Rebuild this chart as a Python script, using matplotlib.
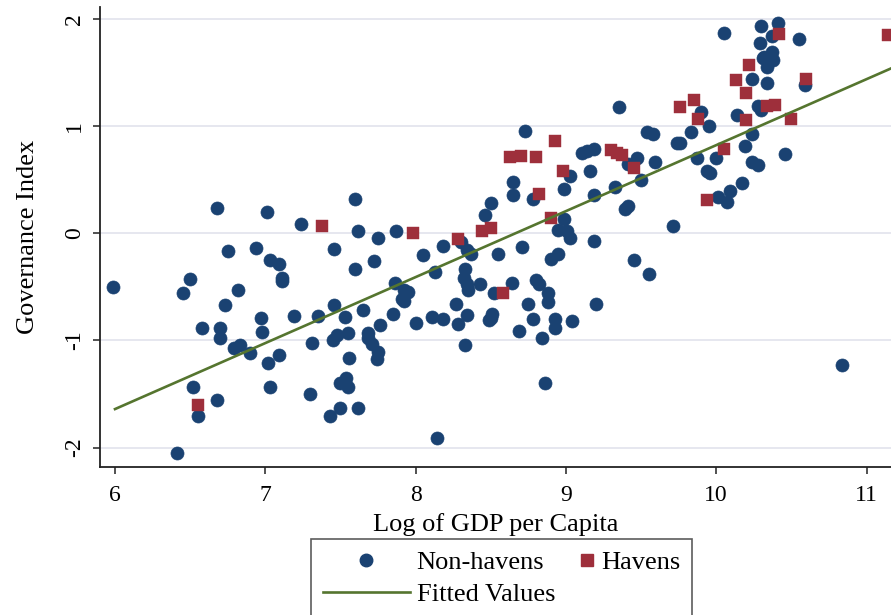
import matplotlib
matplotlib.use("Agg")
import matplotlib.pyplot as plt
from matplotlib.lines import Line2D
from matplotlib.legend_handler import HandlerLine2D

plt.rcParams['font.family'] = ['Liberation Serif', 'DejaVu Serif']

# Non-havens: log GDP per capita, governance index
non_x = [5.99, 6.45, 6.50, 6.68, 6.75, 6.82, 6.73, 6.94, 7.01, 7.03, 7.09, 7.11, 7.11, 7.24,
         6.58, 6.70, 6.70, 6.79, 6.83, 6.90, 6.97, 6.98, 7.19, 7.02, 7.09, 6.52, 7.03, 6.68,
         6.55, 6.41, 7.35, 7.46, 7.53, 7.65, 7.85, 7.92, 8.00, 8.11, 8.18, 7.31, 7.45, 7.48,
         7.55, 7.68, 7.68, 7.71, 7.75, 7.74, 7.76, 7.56, 7.54, 7.50, 7.55, 7.30, 7.43, 7.50,
         7.62, 8.14, 7.60, 7.62, 7.75, 7.87, 7.46, 7.60, 7.72, 8.05, 8.18, 8.13, 7.86, 7.92,
         7.95, 7.91,
         8.30, 8.46, 8.50, 8.34, 8.37, 8.33, 8.32, 8.34, 8.35, 8.43, 8.27, 8.28, 8.34, 8.50,
         8.33,
         9.35, 8.73, 9.54, 9.58, 9.74, 9.76, 9.83, 9.11, 9.14, 9.19, 9.41, 9.47, 9.50, 9.59,
         9.03, 9.16, 8.65, 8.65, 8.78, 8.99, 9.19, 9.33, 9.39, 9.41, 9.71, 8.99, 8.95, 9.01,
         9.03, 9.19, 8.71, 8.55, 8.90, 8.95, 9.45, 9.55, 8.52, 8.64, 8.80, 8.82, 8.88, 8.88,
         8.75, 9.20, 8.51, 8.49, 8.78, 8.93, 8.93, 9.04, 8.69, 8.84, 8.86,
         10.05, 10.30, 10.41, 10.55, 10.29, 10.37, 10.37, 10.32, 10.38, 10.34, 10.31, 10.24,
         10.34, 10.59, 10.28, 10.30, 10.14, 10.24, 10.19, 10.46, 10.24, 10.28, 10.17, 10.09,
         10.01, 10.07, 10.00, 9.94, 9.96, 9.87, 9.95, 9.90, 10.84]
non_y = [-0.50, -0.56, -0.43, 0.24, -0.17, -0.53, -0.67, -0.14, 0.20, -0.25, -0.29, -0.42, -0.45, 0.09,
         -0.88, -0.88, -0.98, -1.07, -1.04, -1.12, -0.79, -0.92, -0.77, -1.21, -1.14, -1.43, -1.43, -1.56,
         -1.70, -2.05, -0.77, -0.67, -0.78, -0.72, -0.75, -0.63, -0.84, -0.78, -0.80, -1.02, -1.00, -0.95,
         -0.93, -0.93, -0.98, -1.03, -1.11, -1.17, -0.86, -1.16, -1.35, -1.40, -1.43, -1.50, -1.70, -1.63,
         -1.63, -1.91, 0.32, 0.02, -0.04, 0.02, -0.15, -0.33, -0.26, -0.20, -0.12, -0.36, -0.46, -0.53,
         -0.55, -0.61,
         -0.08, 0.17, 0.28, -0.16, -0.19, -0.33, -0.42, -0.47, -0.53, -0.47, -0.66, -0.85, -0.76, -0.79,
         -1.04,
         1.18, 0.95, 0.94, 0.93, 0.84, 0.84, 0.94, 0.75, 0.77, 0.79, 0.65, 0.70, 0.50, 0.66,
         0.53, 0.58, 0.48, 0.36, 0.32, 0.41, 0.36, 0.43, 0.23, 0.25, 0.07, 0.13, 0.03, 0.02,
         -0.04, -0.07, -0.13, -0.19, -0.24, -0.19, -0.25, -0.38, -0.56, -0.46, -0.44, -0.47, -0.56, -0.64,
         -0.66, -0.66, -0.75, -0.81, -0.80, -0.80, -0.88, -0.82, -0.91, -0.98, -1.40,
         1.87, 1.93, 1.96, 1.81, 1.77, 1.84, 1.69, 1.64, 1.62, 1.55, 1.63, 1.44,
         1.40, 1.38, 1.19, 1.15, 1.10, 0.93, 0.81, 0.74, 0.66, 0.64, 0.47, 0.39,
         0.34, 0.29, 0.70, 0.58, 0.56, 0.70, 1.00, 1.13, -1.23]

# Havens
hav_x = [6.55, 7.38, 7.98, 8.28, 8.44, 8.50, 8.58, 8.90, 8.82, 8.98, 8.63, 8.70, 8.80, 8.93,
         9.30, 9.34, 9.37, 9.45, 9.76, 9.85, 9.88, 9.94, 10.05, 10.13, 10.20, 10.22, 10.20,
         10.34, 10.39, 10.42, 10.50, 10.60, 11.14]
hav_y = [-1.60, 0.07, 0.00, -0.05, 0.02, 0.05, -0.56, 0.14, 0.37, 0.58, 0.71, 0.72, 0.71, 0.86,
         0.78, 0.75, 0.73, 0.61, 1.18, 1.24, 1.07, 0.31, 0.79, 1.43, 1.31, 1.57, 1.06,
         1.19, 1.20, 1.86, 1.07, 1.44, 1.85]

# fitted values (linear fit end points)
fit_x = [6.0, 11.2]
fit_y = [-1.64, 1.56]

navy = '#1a4272'
maroon = '#9e2f3b'
green = '#55752f'


# legend key with the marker pushed to the right end (next to its label)
class RightMarker(HandlerLine2D):
    def get_xdata(self, legend, xdescent, ydescent, width, height, fontsize):
        m = width - xdescent - 0.3 * fontsize
        return [m, m], [m]


fig = plt.figure(figsize=(8.91, 6.15), dpi=100)
ax = fig.add_axes([0.1122, 0.2407, 0.8878, 0.7479])

ax.scatter(non_x, non_y, s=88, color=navy, edgecolors=navy, linewidths=0.5, zorder=3)
ax.scatter(hav_x, hav_y, s=78, marker='s', color=maroon, edgecolors=maroon, linewidths=0.3, zorder=4)
ax.plot(fit_x, fit_y, color=green, lw=1.9, zorder=5)

ax.set_xlim(5.90, 11.163)
ax.set_ylim(-2.18, 2.11)
ax.set_xticks([6, 7, 8, 9, 10, 11])
ax.set_yticks([-2, -1, 0, 1, 2])
ax.set_yticklabels(['-2', '-1', '0', '1', '2'], rotation=90, va='center')
ax.tick_params(labelsize=17, length=5, width=1.1, color='#222222', pad=8)
ax.tick_params(axis='y', pad=6)
ax.grid(axis='y', color='#e6e7ef', lw=1.4, zorder=0)
ax.set_axisbelow(True)
for s in ['top', 'right']:
    ax.spines[s].set_visible(False)
for s in ['left', 'bottom']:
    ax.spines[s].set_color('#222222')
    ax.spines[s].set_linewidth(1.3)

ax.set_xlabel('Log of GDP per Capita', fontsize=19, labelpad=5)
ax.set_ylabel('Governance Index', fontsize=19, labelpad=18)

h1 = Line2D([], [], ls='none', marker='o', ms=9, color=navy)
h2 = Line2D([], [], ls='none', marker='s', ms=8, color=maroon)
h3 = Line2D([], [], color=green, lw=1.9)
leg = fig.legend([h1, h3, h2], ['Non-havens', 'Fitted Values', 'Havens'],
                 ncol=2, loc='upper left', bbox_to_anchor=(0.349, 0.1235),
                 fontsize=19, frameon=True, fancybox=False, handlelength=3.3,
                 handletextpad=0.25, columnspacing=-1.8, labelspacing=0.3,
                 borderpad=0.45, borderaxespad=0,
                 handler_map={h2: RightMarker()})
leg.get_frame().set_edgecolor('#333333')
leg.get_frame().set_linewidth(1.2)

fig.savefig('out.png', dpi=100)
